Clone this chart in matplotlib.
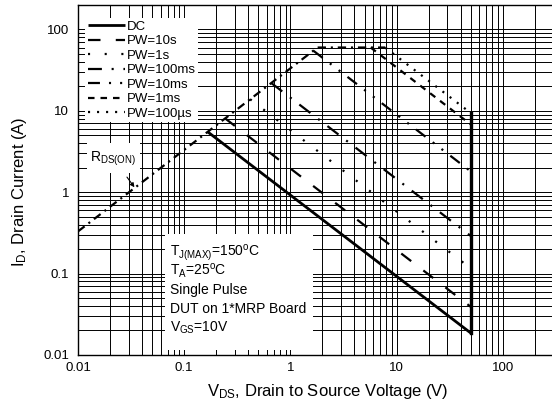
import matplotlib
matplotlib.use("Agg")
import matplotlib.pyplot as plt
import numpy as np
from matplotlib.ticker import LogLocator, NullFormatter
from matplotlib.patches import Rectangle

plt.rcParams['font.family'] = ['Liberation Sans', 'DejaVu Sans']
plt.rcParams['mathtext.default'] = 'regular'
plt.rcParams['lines.scale_dashes'] = False

# safe operating area limit lines, corner points (V, A)
labels = ['DC', 'PW=10s', 'PW=1s', 'PW=100ms', 'PW=10ms', 'PW=1ms', 'PW=100µs']
v_start = [0.167, 0.242, 0.417, 0.66, 1.64, 5.7, 7.8]
i_start = [5.5, 8.1, 13.9, 22.0, 55.0, 60.0, 60.0]
v_end = [50, 50, 50, 50, 50, 50, 50]
i_end = [0.0186, 0.039, 0.116, 0.29, 1.8, 6.8, 9.4]

# R_DS(on) limit + max pulsed current plateau
rds_v = [0.01, 1.8, 7.8]
rds_i = [0.33, 60, 60]

# V_DSS limit
vdss_v = [50, 50]
vdss_i = [0.0186, 9.4]

x_ticks = [0.01, 0.1, 1, 10, 100]
x_ticklabels = ['0.01', '0.1', '1', '10', '100']
y_ticks = [0.01, 0.1, 1, 10, 100]
y_ticklabels = ['0.01', '0.1', '1', '10', '100']

styles = [
    dict(ls='-', lw=2.0),
    dict(ls=(0, (9, 11)), lw=1.6),
    dict(ls=(0, (1.5, 10.5)), lw=1.6),
    dict(ls=(0, (10, 7, 1.5, 7)), lw=1.6),
    dict(ls=(0, (8.6, 6.5, 1.5, 6.5, 1.5, 6.5)), lw=1.6),
    dict(ls=(0, (4.7, 4.3)), lw=1.6),
    dict(ls=(0, (1.5, 5)), lw=1.6),
]

fig = plt.figure(figsize=(5.52, 4.11), dpi=100)
ax = fig.add_axes([0.1413, 0.1363, 0.904, 0.8516])
ax.set_xscale('log')
ax.set_yscale('log')
ax.set_xlim(0.01, 500)
ax.set_ylim(0.01, 200)

ax.set_axisbelow(True)
ax.xaxis.set_minor_locator(LogLocator(base=10, subs=np.arange(2, 10), numticks=20))
ax.yaxis.set_minor_locator(LogLocator(base=10, subs=np.arange(2, 10), numticks=20))
ax.xaxis.set_minor_formatter(NullFormatter())
ax.yaxis.set_minor_formatter(NullFormatter())
ax.grid(True, which='both', color='black', lw=0.7)
ax.set_xticks(x_ticks, labels=x_ticklabels)
ax.set_yticks(y_ticks, labels=y_ticklabels)
ax.tick_params(which='both', length=0, labelsize=9.5)
ax.tick_params(axis='x', pad=5)
ax.tick_params(axis='y', pad=6.5)
for s in ax.spines.values():
    s.set_linewidth(1.0)

ax.plot(rds_v, rds_i, color='black', lw=1.6, ls=(0, (6, 3.5, 1.5, 3.5)), zorder=3)
for k in range(len(labels)):
    ax.plot([v_start[k], v_end[k]], [i_start[k], i_end[k]], color='black',
            label=labels[k], zorder=3, solid_capstyle='butt',
            dash_capstyle='butt', **styles[k])
ax.plot(vdss_v, vdss_i, color='black', lw=2.4, zorder=3)

leg = ax.legend(loc='upper left', bbox_to_anchor=(0.014, 0.963), borderaxespad=0,
                fancybox=False, edgecolor='none', facecolor='white', framealpha=1,
                handlelength=2.8, handletextpad=0.15, labelspacing=0.17,
                borderpad=0.2, fontsize=9.5)
leg.set_zorder(5)

# white boxes hiding the grid
ax.add_patch(Rectangle((0.174, 0.014), 0.297, 0.332, transform=ax.transAxes,
                       facecolor='white', edgecolor='none', zorder=1))
ax.add_patch(Rectangle((0.018, 0.52), 0.106, 0.086, transform=ax.transAxes,
                       facecolor='white', edgecolor='none', zorder=1))

notes = ['T$_{J(MAX)}$=150$^{o}$C', 'T$_{A}$=25$^{o}$C', 'Single Pulse',
         'DUT on 1*MRP Board', 'V$_{GS}$=10V']
for k, t in enumerate(notes):
    ax.text(0.184, 0.282 - 0.054 * k, t, transform=ax.transAxes, fontsize=10,
            va='baseline', ha='left', zorder=4)

ax.annotate('R$_{DS(ON)}$', xy=(0.034, 1.15), xytext=(0.0215, 2.6),
            fontsize=10, ha='center', va='center', zorder=4,
            arrowprops=dict(arrowstyle='-|>', color='black', lw=0.8,
                            mutation_scale=6, shrinkA=6, shrinkB=0))

ax.set_xlabel('V$_{DS}$, Drain to Source Voltage (V)', fontsize=12, labelpad=6)
ax.set_ylabel('I$_{D}$, Drain Current (A)', fontsize=12)
ax.yaxis.set_label_coords(-0.098, 0.466)

fig.savefig('out.png', dpi=100)
